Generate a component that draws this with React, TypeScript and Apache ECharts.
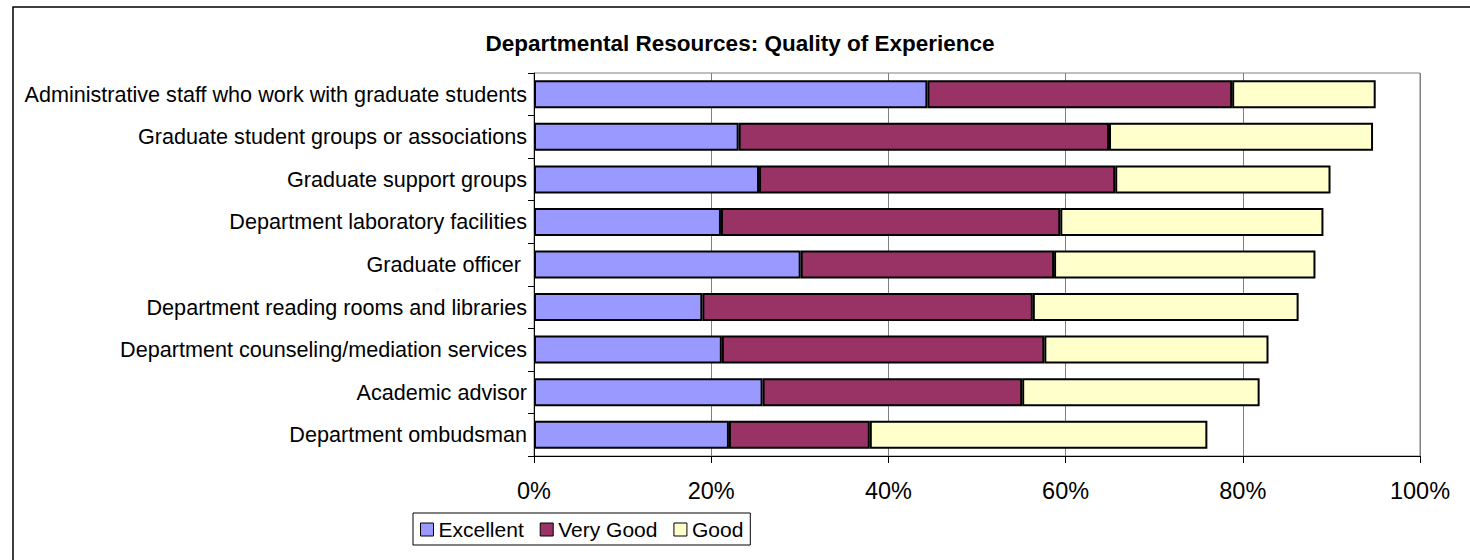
import React, { useEffect, useRef } from "react";
import * as echarts from "echarts";

const categories = [
  "Administrative staff who work with graduate students",
  "Graduate student groups or associations",
  "Graduate support groups",
  "Department laboratory facilities",
  "Graduate officer ",
  "Department reading rooms and libraries",
  "Department counseling/mediation services",
  "Academic advisor",
  "Department ombudsman",
];
const excellent = [44.4, 23.1, 25.4, 21.1, 30.1, 19.0, 21.2, 25.8, 22.0];
const veryGood = [34.4, 41.8, 40.2, 38.3, 28.6, 37.3, 36.4, 29.3, 15.9];
const good = [16.2, 29.8, 24.3, 29.7, 29.5, 30.0, 25.3, 26.8, 38.1];
const seriesNames = ["Excellent", "Very Good", "Good"];
const colors = ["#9999FF", "#993366", "#FFFFCC"];
const FONT = "'Liberation Sans', Arial, sans-serif";

export default function App() {
  const ref = useRef<HTMLDivElement>(null);
  useEffect(() => {
    if (!ref.current) return;
    const chart = echarts.init(ref.current, null, { renderer: "svg" });
    const values = [excellent, veryGood, good];
    chart.setOption({
      animation: false,
      backgroundColor: "#ffffff",
      textStyle: { fontFamily: FONT },
      title: {
        text: "Departmental Resources: Quality of Experience",
        left: 735,
        textAlign: "center",
        top: 27,
        textStyle: { fontFamily: FONT, fontSize: 22.5, fontWeight: "bold", color: "#000" },
      },
      legend: {
        left: 413,
        top: 513,
        orient: "horizontal",
        data: seriesNames,
        icon: "rect",
        itemWidth: 13,
        itemHeight: 13,
        itemGap: 16,
        padding: [6, 7, 5, 7],
        borderColor: "#000",
        borderWidth: 1,
        itemStyle: { borderColor: "#000", borderWidth: 1 },
        textStyle: { fontFamily: FONT, fontSize: 21, color: "#000", padding: [0, 0, 0, 0] },
      },
      grid: {
        left: 534,
        right: 50,
        top: 73,
        bottom: 104,
        show: true,
        borderColor: "#808080",
        borderWidth: 1,
        containLabel: false,
      },
      xAxis: {
        type: "value",
        min: 0,
        max: 100,
        interval: 20,
        axisLine: { show: true, lineStyle: { color: "#000" } },
        axisTick: { show: true, length: 7, lineStyle: { color: "#000" } },
        axisLabel: { formatter: "{value}%", fontFamily: FONT, fontSize: 23.5, color: "#000", margin: 23 },
        splitLine: { show: true, lineStyle: { color: "#808080", width: 1 } },
      },
      yAxis: {
        type: "category",
        inverse: true,
        data: categories,
        axisLine: { show: true, lineStyle: { color: "#000" } },
        axisTick: { show: true, length: 6, lineStyle: { color: "#000" } },
        axisLabel: { fontFamily: FONT, fontSize: 21.6, color: "#000", margin: 7 },
      },
      series: seriesNames.map((name, i) => ({
        name,
        type: "bar",
        stack: "total",
        data: values[i],
        barWidth: 28,
        itemStyle: { color: colors[i], borderColor: "#000", borderWidth: 2 },
      })),
      graphic: [
        {
          type: "rect",
          shape: { x: 13, y: 7, width: 1470, height: 570 },
          style: { fill: "none", stroke: "#000", lineWidth: 1.5 },
          silent: true,
          z: 100,
        },
      ],
    });
    return () => chart.dispose();
  }, []);
  return (
    <div
      ref={ref}
      style={{ position: "fixed", left: 0, top: 0, width: 1470, height: 560 }}
    />
  );
}
